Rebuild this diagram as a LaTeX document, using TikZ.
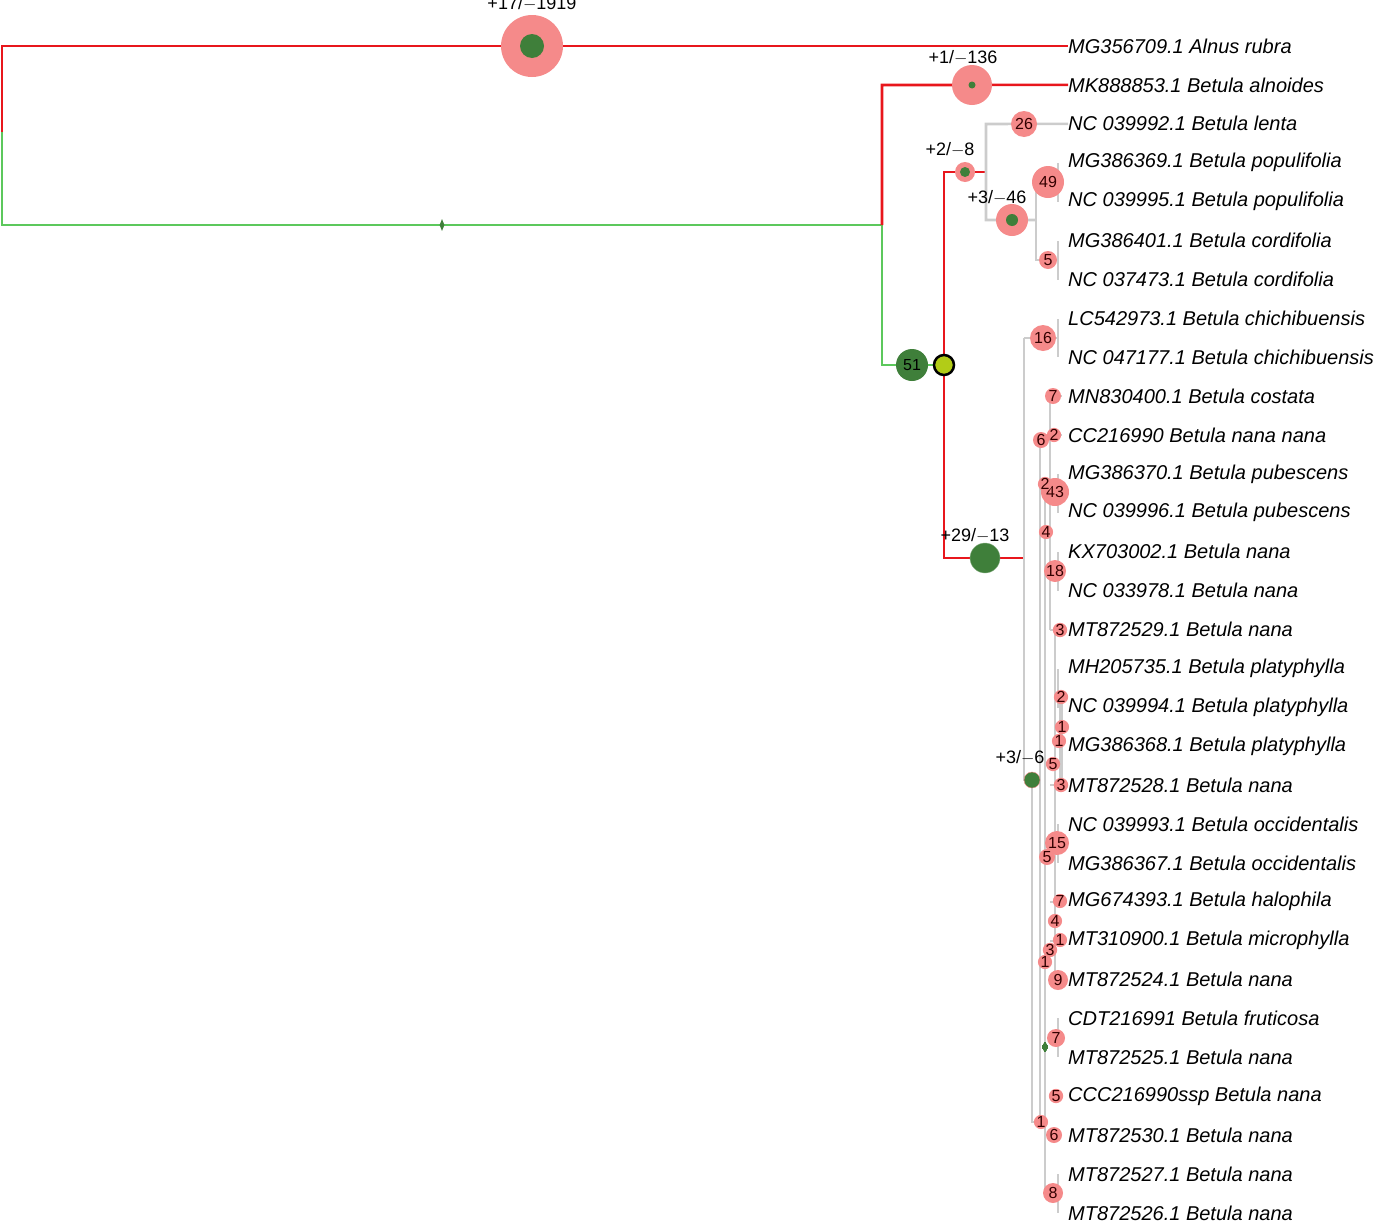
\documentclass[tikz,border=0pt]{standalone}
\usepackage{fontspec}
\setmainfont{Liberation Sans}
\usetikzlibrary{positioning,shapes.geometric}
\definecolor{redline}{HTML}{E8161C}
\definecolor{greenline}{HTML}{5CC85C}
\definecolor{darkgreen}{HTML}{3F7F3A}
\definecolor{bubred}{HTML}{F58A8A}
\definecolor{treegray}{HTML}{CCCCCC}
\tikzset{redbr/.style={redline,line width=2.6pt},
  greenbr/.style={greenline,line width=2.6pt},
  graybr/.style={treegray,line width=2.6pt},
  leaf/.style={anchor=west,inner sep=0pt,font=\fontsize{20}{24}\selectfont\itshape},
  cnt/.style={font=\fontsize{16}{18}\selectfont},
  gain/.style={font=\fontsize{18}{20}\selectfont}}
\newcommand{\bub}[5]{\node[circle,fill=bubred,minimum size=#3pt,inner sep=0pt,cnt,text=black!80!red] (#5) at (#1,#2) {#4};}

\begin{document}
\begin{tikzpicture}[x=1pt,y=-1pt]
\useasboundingbox (0,0) rectangle (1387,1221);

% leaves
\foreach \t [count=\i from 0] in {MG356709.1 Alnus rubra,MK888853.1 Betula alnoides,NC 039992.1 Betula lenta,
  MG386369.1 Betula populifolia,NC 039995.1 Betula populifolia,MG386401.1 Betula cordifolia,NC 037473.1 Betula cordifolia,
  LC542973.1 Betula chichibuensis,NC 047177.1 Betula chichibuensis,MN830400.1 Betula costata,CC216990 Betula nana nana,
  MG386370.1 Betula pubescens,NC 039996.1 Betula pubescens,KX703002.1 Betula nana,NC 033978.1 Betula nana,
  MT872529.1 Betula nana,MH205735.1 Betula platyphylla,NC 039994.1 Betula platyphylla,MG386368.1 Betula platyphylla,
  MT872528.1 Betula nana,NC 039993.1 Betula occidentalis,MG386367.1 Betula occidentalis,MG674393.1 Betula halophila,
  MT310900.1 Betula microphylla,MT872524.1 Betula nana,CDT216991 Betula fruticosa,MT872525.1 Betula nana,
  CCC216990ssp Betula nana,MT872530.1 Betula nana,MT872527.1 Betula nana,MT872526.1 Betula nana}
  \node[leaf] (leaf\i) at (1068,{46+38.9*\i}) {\t};

% main branches
\draw[redbr] (2,132) -- (2,46) -- (leaf0.west);
\draw[greenbr] (2,132) -- (2,225) -- (882,225) -- (882,365) -- (944,365);
\draw[redbr] (882,225) -- (882,85) -- (leaf1.west);
\draw[redbr] (944,365) -- (944,172) -- (986,172);
\draw[redbr] (944,365) -- (944,558) -- (1024,558);

% gray subtrees
\draw[graybr] (leaf2.west) -- (986,124) -- (986,220) -- (1036,220);
\draw[graybr] (1036,182) -- (1036,260) -- (1058,260);
\draw[graybr] (1036,182) -- (1058,182);
\foreach \a/\b in {163/202,241/280,319/357,474/513,552/591,669/708,824/863,1018/1057,1174/1213}
  \draw[graybr,line width=2pt] (1058,\a) -- (1058,\b);
\draw[graybr] (1024,338) -- (1024,780) -- (1032,780);
\draw[graybr] (1024,338) -- (1058,338);
\draw[graybr] (1032,780) -- (1032,1122) -- (1041,1122);
\draw[graybr,line width=2pt] (1040,440) -- (1040,1122);
\draw[graybr,line width=2pt] (1045,484) -- (1045,1193) -- (1058,1193);
\draw[graybr,line width=2pt] (1050,396) -- (1050,630);
\draw[graybr,line width=2pt] (1055,630) -- (1055,985);
\draw[graybr,line width=4pt] (1061,697) -- (1061,785);
\foreach \y in {396,435,630,785,902,941,980,1096,1135}
  \draw[graybr,line width=2pt] (1050,\y) -- (1062,\y);

% bubbles with gain/loss
\node[circle,fill=bubred,minimum size=62pt,inner sep=0pt] (root) at (532,46) {};
\node[circle,fill=darkgreen,minimum size=24pt] at (root) {};
\node[gain,above=0pt of root] {+17/$-$1919};
\node[circle,fill=bubred,minimum size=40pt,inner sep=0pt] (alno) at (972,85) {};
\node[circle,fill=darkgreen,minimum size=7pt,inner sep=0pt] at (alno) {};
\node[gain,anchor=south] at (963,68) {+1/$-$136};
\node[circle,fill=bubred,minimum size=20pt,inner sep=0pt] (lenta) at (965,172) {};
\node[circle,fill=darkgreen,minimum size=10pt,inner sep=0pt] at (lenta) {};
\node[gain,anchor=south] at (950,160) {+2/$-$8};
\node[circle,fill=bubred,minimum size=32pt,inner sep=0pt] (popu) at (1012,220) {};
\node[circle,fill=darkgreen,minimum size=12pt,inner sep=0pt] at (popu) {};
\node[gain,anchor=south] at (997,208) {+3/$-$46};
\node[circle,fill=darkgreen,draw=darkgreen!60,minimum size=30pt,inner sep=0pt] (nana) at (985,558) {};
\node[gain,anchor=south] at (975,546) {+29/$-$13};
\node[circle,fill=darkgreen,draw=bubred,minimum size=16pt,inner sep=0pt] (plat) at (1032,780) {};
\node[gain,anchor=south] at (1020,768) {+3/$-$6};
\node[circle,fill=darkgreen,minimum size=32pt,inner sep=0pt,cnt] (betula) at (912,365) {51};
\node[circle,draw=black,line width=2.5pt,fill=darkgreen!40!yellow,minimum size=20pt,inner sep=0pt] (split) at (944,365) {};
\node[diamond,fill=darkgreen,minimum width=5pt,minimum height=12pt,inner sep=0pt] (stem) at (442,225) {};

% counts
\foreach \x/\y/\r/\l/\n in {1024/124/26/26/ba,1048/182/32/49/bb,1048/260/18/5/bc,1043/338/26/16/bd,
  1053/396/16/7/be,1041/440/16/6/bf,1054/435/9/2/bg,1055/492/28/43/bh,1045/484/8/2/bi,1046/532/14/4/bj,
  1055/571/22/18/bk,1060/630/12/3/bl,1061/697/10/2/bm,1062/727/8/1/bn,1059/741/8/1/bo,1053/764/14/5/bp,
  1061/785/12/3/bq,1057/843/24/15/br,1047/857/16/5/bs,1060/901/14/7/bt,1055/921/14/4/bu,1060/940/8/1/bv,
  1050/950/12/3/bw,1045/962/8/1/bx,1058/980/20/9/by,1056/1038/18/7/bz,1056/1096/14/5/ca,1041/1122/8/1/cb,
  1054/1135/16/6/cc,1053/1193/20/8/cd}
  \bub{\x}{\y}{\r}{\l}{\n}
\node[diamond,fill=darkgreen,minimum width=6pt,minimum height=10pt,inner sep=0pt] (fru) at (1045,1047) {};
\end{tikzpicture}
\end{document}
